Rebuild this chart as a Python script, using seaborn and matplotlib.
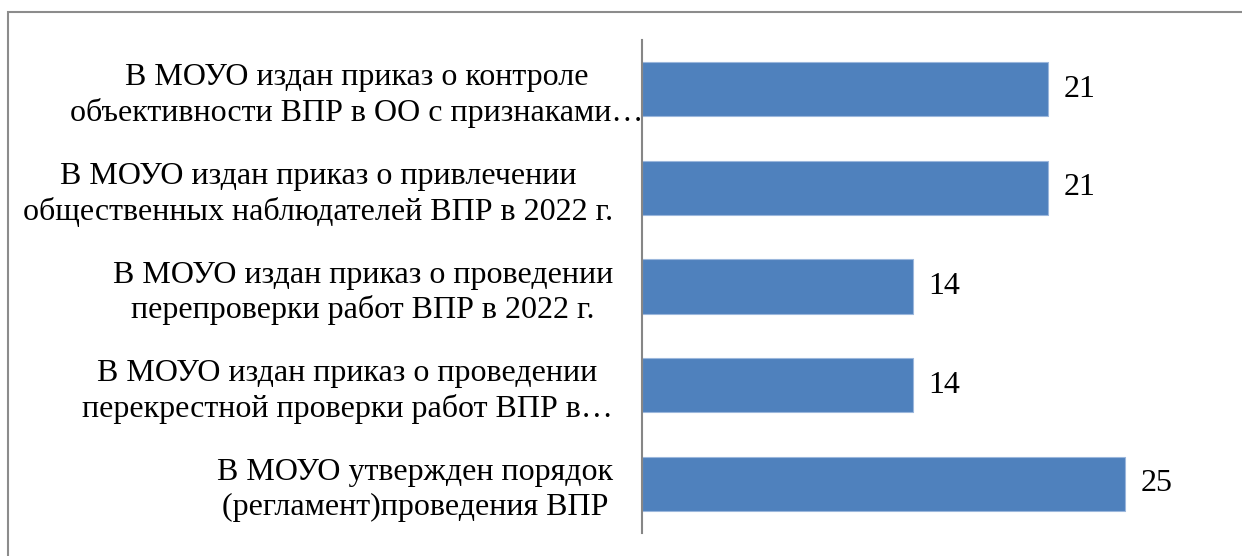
import matplotlib
matplotlib.use("Agg")
import matplotlib.pyplot as plt
import matplotlib.transforms as mtransforms
import seaborn as sns
import pandas as pd
from matplotlib.patches import Rectangle

categories = [
    "В МОУО издан приказ о контроле\nобъективности ВПР в ОО с признаками…",
    "В МОУО издан приказ о привлечении\nобщественных наблюдателей ВПР в 2022 г.",
    "В МОУО издан приказ о проведении\nперепроверки работ ВПР в 2022 г.",
    "В МОУО издан приказ о проведении\nперекрестной проверки работ ВПР в…",
    "В МОУО утвержден порядок\n(регламент)проведения ВПР",
]
values = [21, 21, 14, 14, 25]

sns.set_theme(style="white")
plt.rcParams["font.family"] = ["Liberation Serif", "DejaVu Serif"]
plt.rcParams["text.color"] = "black"
plt.rcParams["ytick.color"] = "black"
plt.rcParams["ytick.labelcolor"] = "black"

df = pd.DataFrame({"cat": categories, "val": values})

fig = plt.figure(figsize=(12.42, 5.56), dpi=100)
ax = fig.add_axes([642 / 1242, 1 - 533 / 556, (1222 - 642) / 1242, (533 - 40) / 556])

sns.barplot(data=df, y="cat", x="val", orient="h", color="#4F81BD",
            saturation=1, width=0.55, ax=ax, edgecolor="#9BB7DC", linewidth=0.8)

ax.set_xlim(0, 30)
ax.set_ylim(4.5, -0.5)
ax.set_xlabel("")
ax.set_ylabel("")
ax.set_xticks([])
ax.tick_params(axis="y", length=0, pad=21, labelsize=23, labelcolor="black")
for i, lbl in enumerate(ax.get_yticklabels()):
    lbl.set_multialignment("center")
    lbl.set_linespacing(1.25)
    lbl.set_color("black")
    if i == 0:
        lbl.set_transform(lbl.get_transform() +
                          mtransforms.ScaledTranslation(31 / 100, 0, fig.dpi_scale_trans))

for s in ["top", "right", "bottom"]:
    ax.spines[s].set_visible(False)
ax.spines["left"].set_color("#868686")
ax.spines["left"].set_linewidth(1.5)

for c in ax.containers:
    ax.bar_label(c, labels=[str(v) for v in values], padding=11, fontsize=23, color="black")

frame = Rectangle((8 / 1242, -0.1), 1.2, 1 - 12 / 556 + 0.1, transform=fig.transFigure,
                  fill=False, edgecolor="#8C8C8C", linewidth=1.5, clip_on=False)
fig.patches.append(frame)

fig.savefig("out.png", dpi=100)
